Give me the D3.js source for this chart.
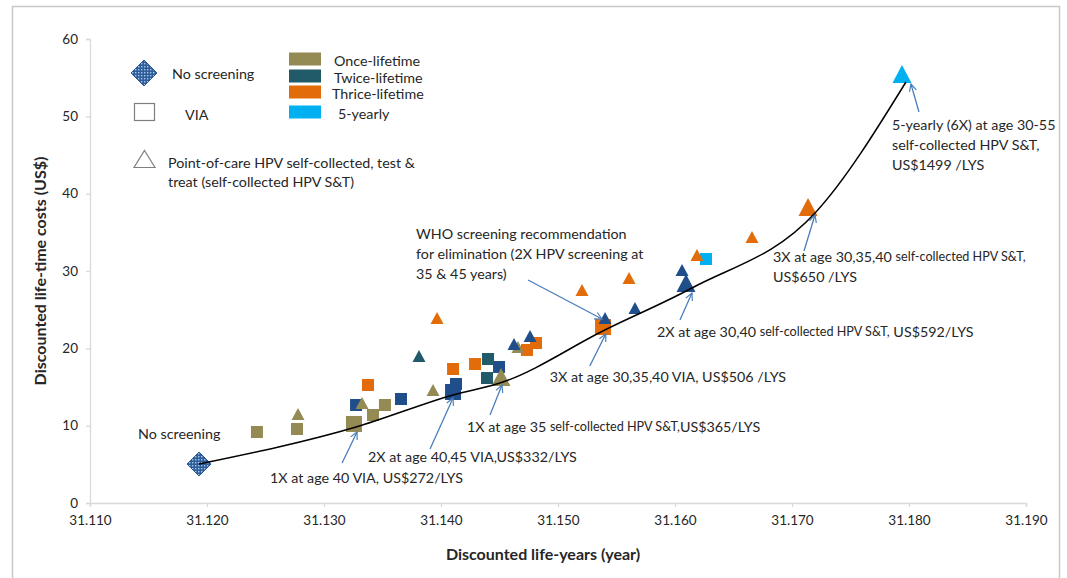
<!DOCTYPE html>
<html>
<head>
<meta charset="utf-8">
<script src="https://cdn.jsdelivr.net/npm/d3@7"></script>
<style>
  body { margin: 0; background: #fff; }
  svg text { font-family: Lato, "Open Sans", "Liberation Sans", sans-serif; fill: #262626; }
</style>
</head>
<body>
<svg id="chart" width="1067" height="578"></svg>
<script>
// ---- axis ticks ----
const xTicks = [31.110, 31.120, 31.130, 31.140, 31.150, 31.160, 31.170, 31.180, 31.190];
const yTicks = [0, 10, 20, 30, 40, 50, 60];

// ---- screening strategies: discounted life-years vs discounted life-time costs ----
const lifeYears = [
  31.12427, 31.12769, 31.13256, 31.13419, 31.13521,           // VIA once
  31.13274, 31.13658, 31.14128, 31.14103, 31.14496,           // VIA twice (dark)
  31.14402, 31.14393,                                         // VIA twice
  31.13376, 31.14103, 31.14291, 31.14735, 31.14812, 31.15385, // VIA thrice
  31.16265,                                                   // VIA 5-yearly
  31.12778, 31.13325, 31.13932, 31.14658, 31.14513,           // S&T once
  31.13812,                                                   // S&T twice
  31.14624, 31.14761, 31.15402, 31.15658, 31.16060, 31.16094, // S&T twice (dark)
  31.13966, 31.15205, 31.15607, 31.16188, 31.16658, 31.17137, // S&T thrice
  31.17940                                                    // S&T 5-yearly
];
const costs = [
  9.18, 9.57, 10.22, 11.38, 12.67,
  12.67, 13.45, 15.39, 14.35, 17.59,
  18.62, 16.16,
  15.26, 17.33, 17.97, 19.79, 20.69, 22.76,
  31.55,
  11.51, 12.93, 14.61, 20.17, 16.29,
  19.01,
  20.56, 21.60, 23.92, 25.22, 30.13, 28.45,
  23.92, 27.54, 29.10, 32.07, 34.40, 38.28,
  55.48
];
const method = [
  "VIA", "VIA", "VIA", "VIA", "VIA",
  "VIA", "VIA", "VIA", "VIA", "VIA",
  "VIA", "VIA",
  "VIA", "VIA", "VIA", "VIA", "VIA", "VIA",
  "VIA",
  "ST", "ST", "ST", "ST", "ST",
  "ST",
  "ST", "ST", "ST", "ST", "ST", "ST",
  "ST", "ST", "ST", "ST", "ST", "ST",
  "ST"
];
const frequency = [
  "once", "once", "once", "once", "once",
  "twiceDark", "twiceDark", "twiceDark", "twiceDark", "twiceDark",
  "twice", "twice",
  "thrice", "thrice", "thrice", "thrice", "thrice", "thrice",
  "fiveYearly",
  "once", "once", "once", "once", "once",
  "twice",
  "twiceDark", "twiceDark", "twiceDark", "twiceDark", "twiceDark", "twiceDark",
  "thrice", "thrice", "thrice", "thrice", "thrice", "thrice",
  "fiveYearly"
];
const onFrontier = [
  0, 0, 1, 0, 0,
  0, 0, 0, 1, 0,
  0, 0,
  0, 0, 0, 0, 0, 1,
  0,
  0, 0, 0, 0, 1,
  0,
  0, 0, 0, 0, 0, 1,
  0, 0, 0, 0, 0, 1,
  1
];

// no screening
const noScreenLifeYears = 31.11932;
const noScreenCost = 5.04;

// efficiency frontier
const frontierLifeYears = [31.11932, 31.13274, 31.14103, 31.14530, 31.15400, 31.16145, 31.17205, 31.17974];
const frontierCosts     = [5.04, 9.83, 13.97, 15.65, 22.37, 27.80, 37.63, 54.44];

// legend
const freqLabels = ["Once-lifetime", "Twice-lifetime", "Thrice-lifetime", "5-yearly"];
const freqKeys = ["once", "twice", "thrice", "fiveYearly"];

// ---- drawing ----
const color = {
  once: "#948A54",
  twice: "#215A69",
  twiceDark: "#1F4E8A",
  thrice: "#E36C0A",
  fiveYearly: "#00B0F0"
};
const FS = 14.3;       // annotation / legend text
const FS_SMALL = 12.6; // smaller inline text

const svg = d3.select("#chart");
const x = d3.scaleLinear().domain([31.110, 31.190]).range([90, 1026]);
const y = d3.scaleLinear().domain([0, 60]).range([503, 39]);

// pattern for the no-screening diamond
const defs = svg.append("defs");
const pat = defs.append("pattern").attr("id", "dotfill")
  .attr("width", 3).attr("height", 3).attr("patternUnits", "userSpaceOnUse");
pat.append("rect").attr("width", 3).attr("height", 3).attr("fill", "#2E5E9A");
pat.append("rect").attr("x", 0).attr("y", 0).attr("width", 1.4).attr("height", 1.4).attr("fill", "#A9C4E6");

// arrow head
defs.append("marker").attr("id", "arrowOpen")
  .attr("viewBox", "0 0 10 10").attr("refX", 9).attr("refY", 5)
  .attr("markerWidth", 9).attr("markerHeight", 9).attr("markerUnits", "userSpaceOnUse")
  .attr("orient", "auto")
  .append("path").attr("d", "M1,1 L9,5 L1,9").attr("fill", "none")
  .attr("stroke", "#4A7EBB").attr("stroke-width", 1.3);

// outer frame
svg.append("rect").attr("x", 12.5).attr("y", 6.5).attr("width", 1047).attr("height", 620)
  .attr("fill", "none").attr("stroke", "#C8C8C8").attr("stroke-width", 1.5);

// axes
const gx = svg.append("g").attr("transform", "translate(0,503)")
  .call(d3.axisBottom(x).tickValues(xTicks).tickSize(4).tickPadding(8).tickFormat(d3.format(".3f")));
const gy = svg.append("g").attr("transform", "translate(90,0)")
  .call(d3.axisLeft(y).tickValues(yTicks).tickSize(4).tickPadding(8).tickFormat(d3.format("d")));
[gx, gy].forEach(g => {
  g.selectAll(".domain").attr("stroke", "#D9D9D9").attr("stroke-width", 1.3);
  g.selectAll(".tick line").attr("stroke", "#D9D9D9").attr("stroke-width", 1.3);
  g.selectAll(".tick text").attr("font-size", 13.5).attr("font-family", "Lato, sans-serif").attr("fill", "#404040");
});

// axis titles
svg.append("text").attr("x", 543).attr("y", 553).attr("text-anchor", "middle")
  .attr("dominant-baseline", "central").attr("font-weight", "bold").attr("font-size", 16)
  .text("Discounted life-years (year)");
svg.append("text").attr("transform", "translate(39,271) rotate(-90)").attr("text-anchor", "middle")
  .attr("dominant-baseline", "central").attr("font-weight", "bold").attr("font-size", 16)
  .text("Discounted life-time costs (US$)");

// shape helpers
function squarePath(cx, cy, s) {
  return `M${cx - s / 2},${cy - s / 2}h${s}v${s}h${-s}Z`;
}
function trianglePath(cx, cy, w, h) {
  return `M${cx},${cy - h / 2}L${cx + w / 2},${cy + h / 2}L${cx - w / 2},${cy + h / 2}Z`;
}
function diamondPath(cx, cy, r) {
  return `M${cx},${cy - r}L${cx + r},${cy}L${cx},${cy + r}L${cx - r},${cy}Z`;
}

const pts = lifeYears.map((v, i) => ({
  ly: v, cost: costs[i], method: method[i], freq: frequency[i], big: onFrontier[i] === 1
}));

// VIA squares first, then self-collected HPV S&T triangles on top
const gMarks = svg.append("g");
gMarks.selectAll("path.sq").data(pts.filter(d => d.method === "VIA")).join("path")
  .attr("class", "sq")
  .attr("d", d => squarePath(x(d.ly), y(d.cost), d.big ? 16 : 12))
  .attr("fill", d => color[d.freq]);
gMarks.selectAll("path.tri").data(pts.filter(d => d.method === "ST")).join("path")
  .attr("class", "tri")
  .attr("d", d => d.big ? trianglePath(x(d.ly), y(d.cost), 19, 18) : trianglePath(x(d.ly), y(d.cost), 13, 12))
  .attr("fill", d => color[d.freq]);

// no screening diamond
svg.append("path").attr("d", diamondPath(x(noScreenLifeYears), y(noScreenCost), 12))
  .attr("fill", "url(#dotfill)").attr("stroke", "#2B5797").attr("stroke-width", 1);

// efficiency frontier
const frontier = frontierLifeYears.map((v, i) => [x(v), y(frontierCosts[i])]);
svg.append("path").attr("d", d3.line().curve(d3.curveMonotoneX)(frontier))
  .attr("fill", "none").attr("stroke", "#000").attr("stroke-width", 1.5);

// ---- annotations (anchored to frontier points) ----
const annotations = [
  { at: 1, tip: [1, 5], tail: [-14, 36], txt: [-86, 50], lines: [[["1X at age 40 VIA, US$272/LYS", 0]]] },
  { at: 2, tip: [0, 3], tail: [-23, 54], txt: [-85, 61], lines: [[["2X at age 40,45 VIA,US$332/LYS", 0]]] },
  { at: 3, tip: [-1, 3], tail: [-13, 33], txt: [-36, 44], lines: [[["1X at age 35 ", 0], ["self-collected HPV S&T,", 1], ["US$365/LYS", 0]]] },
  { at: 4, tip: [1, 4], tail: [-15, 36], txt: [-55, 46], lines: [[["3X at age 30,35,40 VIA, US$506 /LYS", 0]]] },
  { at: 5, tip: [0, 5], tail: [-12, 32], txt: [-35, 43], lines: [[["2X at age 30,40 ", 0], ["self-collected HPV S&T,", 1], [" US$592/LYS", 0]]] },
  { at: 6, tip: [-1, 3], tail: [-12, 39], txt: [-43, 44], lines: [[["3X at age 30,35,40 ", 0], ["self-collected HPV S&T,", 1]], [["US$650 /LYS", 0]]] },
  { at: 7, tip: [5, 2], tail: [13, 30], txt: [-14, 42], lines: [[["5-yearly (6X) at age 30-55", 0]], [["self-collected HPV S&T,", 0]], [["US$1499 /LYS", 0]]] }
];
const gAnn = svg.append("g");
annotations.forEach(a => {
  const [px, py] = frontier[a.at];
  gAnn.append("line")
    .attr("x1", px + a.tail[0]).attr("y1", py + a.tail[1])
    .attr("x2", px + a.tip[0]).attr("y2", py + a.tip[1])
    .attr("stroke", "#4A7EBB").attr("stroke-width", 1.3).attr("marker-end", "url(#arrowOpen)");
  a.lines.forEach((ln, li) => {
    const t = gAnn.append("text").attr("x", px + a.txt[0]).attr("y", py + a.txt[1] + li * 20)
      .attr("dominant-baseline", "central");
    ln.forEach(([s, small]) => t.append("tspan").attr("font-size", small ? FS_SMALL : FS).text(s));
  });
});

// WHO recommendation: points at the 2X self-collected HPV S&T strategy at 35 & 45
const whoIdx = 27;
const wx = x(lifeYears[whoIdx]), wy = y(costs[whoIdx]);
gAnn.append("line").attr("x1", wx - 77).attr("y1", wy - 38).attr("x2", wx - 3).attr("y2", wy + 1)
  .attr("stroke", "#4A7EBB").attr("stroke-width", 1.3).attr("marker-end", "url(#arrowOpen)");
["WHO screening recommendation", "for elimination (2X HPV screening at", "35 & 45 years)"].forEach((s, i) => {
  gAnn.append("text").attr("x", wx - 189).attr("y", wy - 85 + i * 20)
    .attr("dominant-baseline", "central").attr("font-size", FS).text(s);
});

// no screening label
svg.append("text").attr("x", x(noScreenLifeYears) - 61).attr("y", y(noScreenCost) - 31)
  .attr("dominant-baseline", "central").attr("font-size", FS).text("No screening");

// ---- legend ----
const gLeg = svg.append("g");
gLeg.append("path").attr("d", diamondPath(144, 73, 13))
  .attr("fill", "url(#dotfill)").attr("stroke", "#2B5797").attr("stroke-width", 1);
gLeg.append("text").attr("x", 172).attr("y", 73).attr("dominant-baseline", "central")
  .attr("font-size", FS).text("No screening");
gLeg.append("rect").attr("x", 134.5).attr("y", 103.5).attr("width", 20).attr("height", 17)
  .attr("fill", "#fff").attr("stroke", "#7F7F7F").attr("stroke-width", 1.2);
gLeg.append("text").attr("x", 185).attr("y", 114).attr("dominant-baseline", "central")
  .attr("font-size", FS).text("VIA");
gLeg.append("path").attr("d", trianglePath(144.5, 159, 21, 17))
  .attr("fill", "#fff").attr("stroke", "#7F7F7F").attr("stroke-width", 1.2);
gLeg.append("text").attr("x", 168).attr("y", 162).attr("dominant-baseline", "central")
  .attr("font-size", FS).text("Point-of-care HPV self-collected, test &");
gLeg.append("text").attr("x", 168).attr("y", 181).attr("dominant-baseline", "central")
  .attr("font-size", FS).text("treat (self-collected HPV S&T)");

const legY = [59, 76, 92, 112];
const legTx = [334, 334, 332, 338];
freqKeys.forEach((k, i) => {
  gLeg.append("rect").attr("x", 289).attr("y", legY[i] - 6.5).attr("width", 32).attr("height", 13)
    .attr("fill", color[k]);
  gLeg.append("text").attr("x", legTx[i]).attr("y", legY[i] + 1).attr("dominant-baseline", "central")
    .attr("font-size", FS).text(freqLabels[i]);
});
</script>
</body>
</html>
